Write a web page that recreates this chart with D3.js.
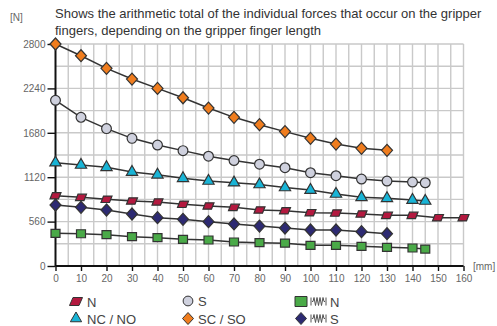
<!DOCTYPE html>
<html>
<head>
<meta charset="utf-8">
<script src="https://cdn.jsdelivr.net/npm/d3@7/dist/d3.min.js"></script>
<style>
  html, body { margin: 0; padding: 0; background: #fff; overflow: hidden; }
  svg { display: block; font-family: "Liberation Sans", Arial, sans-serif; }
</style>
</head>
<body>
<svg id="chart" width="497" height="326"></svg>
<script>
// Finger length [mm] and total gripping force [N] per gripper variant
const xTicks = [0, 10, 20, 30, 40, 50, 60, 70, 80, 90, 100, 110, 120, 130, 140, 150, 160];
const yTicks = [0, 560, 1120, 1680, 2240, 2800];

const lenSC = [0, 10, 20, 30, 40, 50, 60, 70, 80, 90, 100, 110, 120, 130];
const forceSC = [2800, 2652, 2493, 2358, 2240, 2122, 1992, 1875, 1782, 1695, 1610, 1538, 1484, 1459];

const lenS = [0, 10, 20, 30, 40, 50, 60, 70, 80, 90, 100, 110, 120, 130, 140, 145];
const forceS = [2090, 1875, 1733, 1610, 1526, 1455, 1385, 1330, 1284, 1240, 1177, 1139, 1097, 1072, 1059, 1050];

const lenNC = [0, 10, 20, 30, 40, 50, 60, 70, 80, 90, 100, 110, 120, 130, 140, 145];
const forceNC = [1303, 1274, 1245, 1185, 1150, 1106, 1072, 1051, 1028, 990, 958, 908, 866, 854, 832, 820];

const lenN = [0, 10, 20, 30, 40, 50, 60, 70, 80, 90, 100, 110, 120, 130, 140, 150, 160];
const forceN = [886, 866, 841, 820, 807, 778, 757, 740, 706, 697, 672, 668, 656, 639, 639, 609, 609];

const lenSpringS = [0, 10, 20, 30, 40, 50, 60, 70, 80, 90, 100, 110, 120, 130];
const forceSpringS = [769, 740, 706, 656, 609, 589, 559, 530, 504, 479, 454, 454, 433, 407];

const lenSpringN = [0, 10, 20, 30, 40, 50, 60, 70, 80, 90, 100, 110, 120, 130, 140, 145];
const forceSpringN = [412, 407, 395, 370, 357, 337, 328, 303, 294, 288, 261, 261, 248, 236, 227, 214];

const seriesNames = ["N", "NC / NO", "S", "SC / SO", "N", "S"];

const svg = d3.select("#chart");
const x = d3.scaleLinear().domain([0, 160]).range([55.5, 463.5]);
const y = d3.scaleLinear().domain([0, 2800]).range([266, 44]);

// Title and units
svg.append("text").attr("x", 55).attr("y", 18).attr("font-size", 13).attr("fill", "#333")
  .text("Shows the arithmetic total of the individual forces that occur on the gripper");
svg.append("text").attr("x", 55).attr("y", 35).attr("font-size", 13).attr("fill", "#333")
  .text("fingers, depending on the gripper finger length");
svg.append("text").attr("x", 10).attr("y", 21).attr("font-size", 10).attr("fill", "#666").text("[N]");
svg.append("text").attr("x", 473).attr("y", 270).attr("font-size", 10).attr("fill", "#666").text("[mm]");

// Grid
const grid = svg.append("g").attr("stroke", "#c9c9c9").attr("stroke-width", 1.4);
grid.selectAll("line.v").data(d3.range(5, 161, 5)).join("line")
  .attr("x1", d => x(d)).attr("x2", d => x(d)).attr("y1", y(0)).attr("y2", y(2800));
grid.selectAll("line.h").data(d3.range(280, 2801, 280)).join("line")
  .attr("x1", x(0)).attr("x2", x(160)).attr("y1", d => y(d)).attr("y2", d => y(d));

// Axes
const xAxis = svg.append("g").attr("transform", `translate(0,${y(0)})`)
  .call(d3.axisBottom(x).tickValues(xTicks).tickFormat(d3.format("d")).tickSize(5).tickPadding(4));
const yAxis = svg.append("g").attr("transform", `translate(${x(0)},0)`)
  .call(d3.axisLeft(y).tickValues(yTicks).tickFormat(d3.format("d")).tickSize(8).tickPadding(2));
[xAxis, yAxis].forEach(a => {
  a.select(".domain").attr("stroke", "#111").attr("stroke-width", 2);
  a.selectAll(".tick line").attr("stroke", "#111").attr("stroke-width", 1.4);
  a.selectAll(".tick text").attr("fill", "#666").attr("font-size", 10)
    .attr("font-family", "Liberation Sans, Arial, sans-serif");
});
xAxis.select(".domain").attr("d", `M${x(0)},0H${x(160)}`);
yAxis.select(".domain").attr("d", `M0,${y(0)}V${y(2800)}`);

// Marker shapes
const para = "M-3,-3.2L5.5,-3.2L3,3.2L-5.5,3.2Z";
const shapes = {
  para: () => para,
  tri: () => d3.symbol(d3.symbolTriangle, 55)(),
  circle: () => d3.symbol(d3.symbolCircle, 75)(),
  diamond: () => "M0,-6L5.5,0L0,6L-5.5,0Z",
  square: () => "M-4.5,-4L4.5,-4L4.5,4L-4.5,4Z"
};

const series = [
  { len: lenSC, force: forceSC, shape: "diamond", fill: "#f07d1e" },
  { len: lenS, force: forceS, shape: "circle", fill: "#cfd1de" },
  { len: lenNC, force: forceNC, shape: "tri", fill: "#19b4d6" },
  { len: lenN, force: forceN, shape: "para", fill: "#b3193f" },
  { len: lenSpringS, force: forceSpringS, shape: "diamond", fill: "#2d2a72" },
  { len: lenSpringN, force: forceSpringN, shape: "square", fill: "#4aaa48" }
];

const line = d3.line().x(d => x(d[0])).y(d => y(d[1]));
series.forEach(s => {
  const pts = s.len.map((l, i) => [l, s.force[i]]);
  svg.append("path").attr("d", line(pts)).attr("fill", "none")
    .attr("stroke", "#333").attr("stroke-width", 1.5);
  svg.append("g").selectAll("path").data(pts).join("path")
    .attr("transform", d => `translate(${x(d[0])},${y(d[1])})`)
    .attr("d", shapes[s.shape]())
    .attr("fill", s.fill).attr("stroke", "#333").attr("stroke-width", 1.2);
});

// Coil spring icon used in the legend
function spring(g, cx, cy) {
  const s = g.append("g").attr("transform", `translate(${cx},${cy})`)
    .attr("stroke", "#555").attr("fill", "none").attr("stroke-width", 1);
  s.append("path").attr("d", "M0,-4V4M15,-4V4");
  s.append("path").attr("d", "M1,0H2L3,-4L4.5,4L6,-4L7.5,4L9,-4L10.5,4L12,-4L13,0H14");
}

// Legend
const legend = [
  { shape: "para", fill: "#b3193f", mx: 76, my: 301.5, tx: 87, label: seriesNames[0] },
  { shape: "tri", fill: "#19b4d6", mx: 76, my: 318.5, tx: 87, label: seriesNames[1] },
  { shape: "circle", fill: "#cfd1de", mx: 188, my: 301, tx: 198, label: seriesNames[2] },
  { shape: "diamond", fill: "#f07d1e", mx: 188, my: 318.5, tx: 198, label: seriesNames[3] },
  { shape: "square", fill: "#4aaa48", mx: 301, my: 301.5, tx: 330, label: seriesNames[4], spring: true },
  { shape: "diamond", fill: "#2d2a72", mx: 301, my: 318.5, tx: 330, label: seriesNames[5], spring: true }
];
legend.forEach(d => {
  const k = d.shape === "square" ? "M-6,-5L6,-5L6,5L-6,5Z" :
            d.shape === "para" ? "M-3,-4L6.5,-4L3,4L-6.5,4Z" :
            shapes[d.shape]();
  svg.append("path").attr("transform", `translate(${d.mx},${d.my})`).attr("d", k)
    .attr("fill", d.fill).attr("stroke", "#333").attr("stroke-width", 1);
  if (d.spring) spring(svg, 311, d.my);
  svg.append("text").attr("x", d.tx).attr("y", d.my + 5).attr("font-size", 13)
    .attr("fill", "#444").text(d.label);
});
</script>
</body>
</html>
